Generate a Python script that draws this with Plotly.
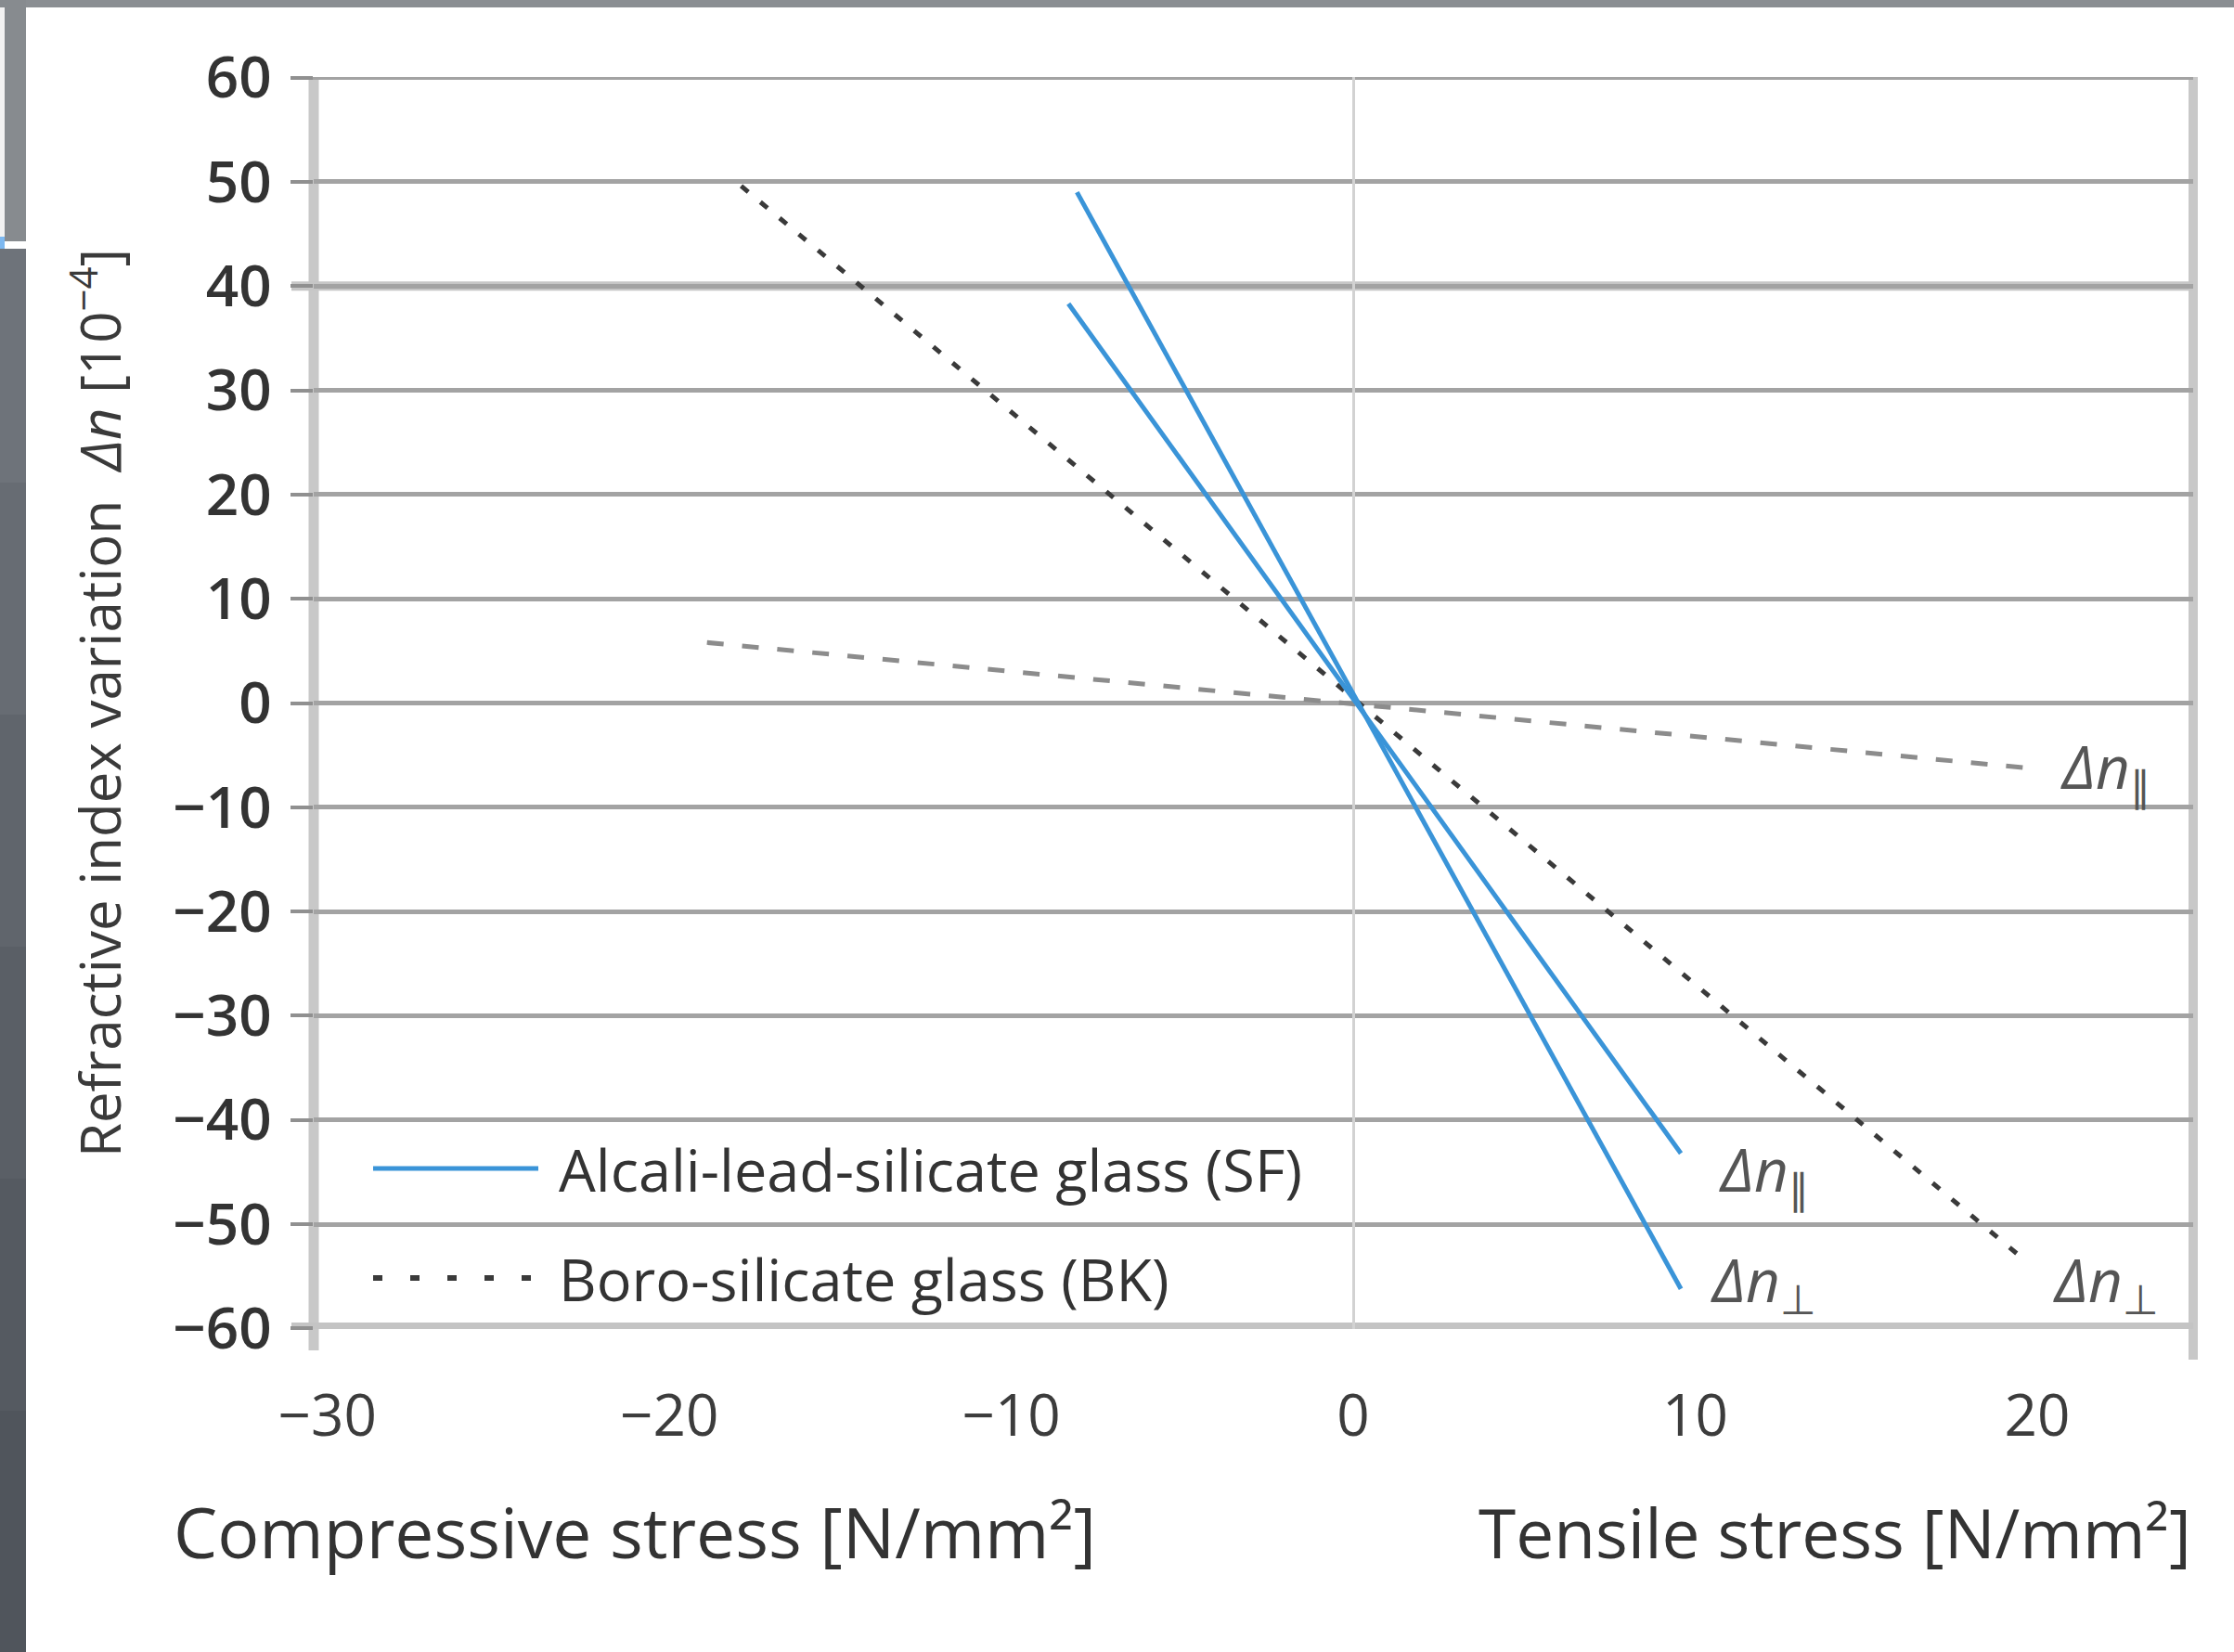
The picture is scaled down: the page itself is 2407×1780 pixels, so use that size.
import plotly.graph_objects as go

# ---------------- data ----------------
stress_sf_par = [-8.33, 9.58]
dn_sf_par = [38.3, -43.2]
stress_sf_perp = [-8.08, 9.58]
dn_sf_perp = [49.0, -56.2]
stress_bk_perp = [-17.9, 19.4]
dn_bk_perp = [49.6, -52.8]
stress_bk_par = [-18.9, 19.6]
dn_bk_par = [5.8, -6.2]

x_ticks = [-30, -20, -10, 0, 10, 20]
y_ticks = [60, 50, 40, 30, 20, 10, 0, -10, -20, -30, -40, -50, -60]

legend_names = ["Alcali-lead-silicate glass (SF)", "Boro-silicate glass (BK)"]
label_texts = ["<i>Δn</i><sub>∥</sub>", "<i>Δn</i><sub>∥</sub>", "<i>Δn</i><sub>⊥</sub>", "<i>Δn</i><sub>⊥</sub>"]
label_x = [22.0, 12.0, 12.0, 22.0]
label_y = [-6.4, -45.0, -55.6, -55.6]

# ---------------- layout geometry ----------------
W, H = 2407, 1780
L, R, T, B = 338, 44, 83, 348
PW = W - L - R
PH = H - T - B
FONT = "Open Sans, Noto Sans, DejaVu Sans, sans-serif"
BLUE = "#3a94d8"
GRID = "#a3a3a3"


def px(x):
    return (x - L) / PW


def py(y):
    return (H - B - y) / PH


fig = go.Figure()

fig.add_trace(go.Scatter(x=stress_bk_par, y=dn_bk_par, mode="lines", showlegend=False,
                         name="BK Δn∥", line=dict(color="#8c8c8c", width=5, dash="18px,20px")))
fig.add_trace(go.Scatter(x=stress_bk_perp, y=dn_bk_perp, mode="lines", showlegend=False,
                         name="BK Δn⊥", line=dict(color="#3a3a3a", width=5, dash="10px,17px")))
fig.add_trace(go.Scatter(x=stress_sf_par, y=dn_sf_par, mode="lines", showlegend=False,
                         name="SF Δn∥", line=dict(color=BLUE, width=5)))
fig.add_trace(go.Scatter(x=stress_sf_perp, y=dn_sf_perp, mode="lines", showlegend=False,
                         name="SF Δn⊥", line=dict(color=BLUE, width=5)))

shapes = []
# page border (scan frame)
shapes.append(dict(type="rect", xref="paper", yref="paper", x0=px(0), x1=px(W), y0=py(0), y1=py(8),
                   fillcolor="#8a8e92", line=dict(width=0), layer="below"))
shapes.append(dict(type="rect", xref="paper", yref="paper", x0=px(0), x1=px(28), y0=py(0), y1=py(260),
                   fillcolor="#878b8f", line=dict(width=0), layer="below"))
shapes.append(dict(type="rect", xref="paper", yref="paper", x0=px(0), x1=px(5), y0=py(8), y1=py(255),
                   fillcolor="#f2f2f2", line=dict(width=0), layer="below"))
shapes.append(dict(type="rect", xref="paper", yref="paper", x0=px(0), x1=px(5), y0=py(255), y1=py(268),
                   fillcolor="#7db8f0", line=dict(width=0), layer="below"))
band = ["#6e737a", "#676c73", "#60656c", "#5a5f66", "#555a61", "#50555c"]
edges = [268, 520, 770, 1020, 1270, 1520, H]
for c, a, b in zip(band, edges[:-1], edges[1:]):
    shapes.append(dict(type="rect", xref="paper", yref="paper", x0=px(0), x1=px(28), y0=py(a), y1=py(b),
                       fillcolor=c, line=dict(width=0), layer="below"))
# frame lines of the plot
shapes.append(dict(type="line", xref="paper", yref="paper", x0=px(L), x1=px(L), y0=py(T), y1=py(1455),
                   line=dict(color="#c8c8c8", width=11), layer="below"))
shapes.append(dict(type="line", xref="paper", yref="paper", x0=px(W - R), x1=px(W - R), y0=py(T), y1=py(1465),
                   line=dict(color="#c8c8c8", width=10), layer="below"))
shapes.append(dict(type="line", xref="paper", yref="y", x0=px(314), x1=px(W - R), y0=-60, y1=-60,
                   line=dict(color="#c4c4c4", width=13), layer="below"))
shapes.append(dict(type="line", xref="paper", yref="y", x0=px(314), x1=1, y0=40, y1=40,
                   line=dict(color="#c6c6c6", width=10), layer="below"))
shapes.append(dict(type="line", xref="paper", yref="y", x0=px(314), x1=1, y0=60, y1=60,
                   line=dict(color=GRID, width=5), layer="below"))

# legend samples
leg_y = [py(1259), py(1377)]
shapes.append(dict(type="line", xref="paper", yref="paper", x0=px(402), x1=px(580), y0=leg_y[0], y1=leg_y[0],
                   line=dict(color=BLUE, width=5)))
shapes.append(dict(type="line", xref="paper", yref="paper", x0=px(402), x1=px(580), y0=leg_y[1], y1=leg_y[1],
                   line=dict(color="#3a3a3a", width=6, dash="10px,30px")))

annotations = []
for name, yy in zip(legend_names, leg_y):
    annotations.append(dict(text=name, xref="paper", yref="paper", x=px(600), y=yy, xanchor="left",
                            yanchor="middle", showarrow=False, font=dict(family=FONT, size=63, color="#333333")))
for t, xx, yy in zip(label_texts, label_x, label_y):
    annotations.append(dict(text=t, x=xx, y=yy, xref="x", yref="y", xanchor="center", yanchor="middle",
                            showarrow=False, font=dict(family=FONT, size=64, color="#555555")))
annotations.append(dict(text="Compressive stress [N/mm²]", xref="paper", yref="paper", x=px(185), y=py(1650),
                        xanchor="left", yanchor="middle", showarrow=False,
                        font=dict(family=FONT, size=75, color="#333333")))
annotations.append(dict(text="Tensile stress [N/mm²]", xref="paper", yref="paper", x=px(W - R), y=py(1650),
                        xanchor="right", yanchor="middle", showarrow=False,
                        font=dict(family=FONT, size=73, color="#333333")))

fig.update_layout(
    width=W, height=H,
    margin=dict(l=L, r=R, t=T, b=B, autoexpand=False),
    paper_bgcolor="white", plot_bgcolor="white",
    shapes=shapes, annotations=annotations,
    showlegend=False,
    xaxis=dict(range=[-30.4, 24.56], tickvals=x_ticks, showgrid=False, zeroline=True,
               zerolinecolor="#d2d2d2", zerolinewidth=3, showline=False, ticks="",
               ticklabelstandoff=52, tickfont=dict(family=FONT, size=62, color="#3c3c3c"),
               automargin=False),
    yaxis=dict(range=[-60.05, 60.05], tickvals=y_ticks, showgrid=True, gridcolor=GRID, gridwidth=5,
               zeroline=False, showline=False, ticks="outside", ticklen=24, tickwidth=4, tickcolor="#909090",
               ticklabelstandoff=8, tickfont=dict(family=FONT, size=62, color="#333333", weight=600),
               title=dict(text="Refractive index variation  <i>Δn</i> [10<sup>−4</sup>]",
                          font=dict(family=FONT, size=60, color="#3a3a3a"), standoff=36),
               automargin=False),
)

fig.write_html("out.html")
